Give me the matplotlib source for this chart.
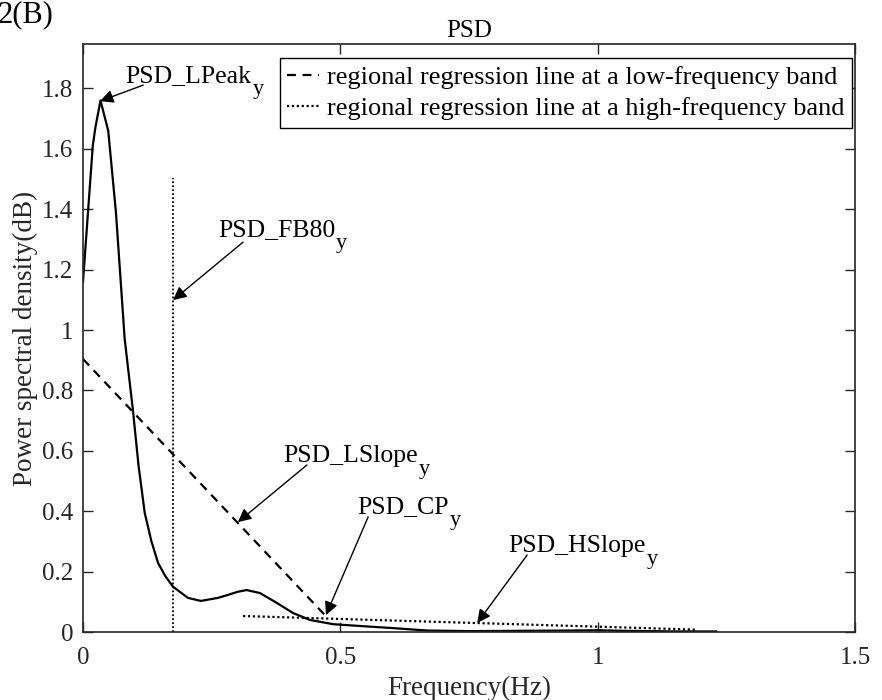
import matplotlib
matplotlib.use("Agg")
import matplotlib.pyplot as plt

plt.rcParams['font.family'] = ['Liberation Serif', 'DejaVu Serif']

# PSD curve
freq = [0, 0.019, 0.024, 0.034, 0.049, 0.064, 0.081, 0.097, 0.108, 0.12, 0.133,
        0.146, 0.16, 0.175, 0.204, 0.229, 0.262, 0.28, 0.3, 0.318, 0.344, 0.377,
        0.408, 0.441, 0.486, 0.538, 0.602, 0.668, 0.75, 0.85, 0.95, 1.0, 1.05,
        1.1, 1.15, 1.23]
psd = [1.16, 1.61, 1.67, 1.76, 1.66, 1.39, 0.97, 0.735, 0.55, 0.394, 0.30,
       0.228, 0.185, 0.150, 0.113, 0.103, 0.113, 0.122, 0.133, 0.139, 0.129, 0.096,
       0.063, 0.040, 0.026, 0.020, 0.013, 0.005, 0.003, 0.004, 0.005, 0.006, 0.004,
       0.003, 0.002, 0.002]

# regression lines and FB80 marker
low_x = [0, 0.47]
low_y = [0.904, 0.056]
high_x = [0.311, 1.19]
high_y = [0.053, 0.008]
fb80_x = 0.174
fb80_top = 1.503

# annotations: label, text baseline position, arrow tail, arrow head
labels = ['PSD_LPeak', 'PSD_FB80', 'PSD_LSlope', 'PSD_CP', 'PSD_HSlope']
text_pos = [(0.0824, 1.821), (0.262, 1.311), (0.389, 0.563), (0.532, 0.394), (0.826, 0.265)]
tails = [(0.117, 1.811), (0.311, 1.291), (0.435, 0.553), (0.554, 0.381), (0.863, 0.255)]
heads = [(0.033, 1.758), (0.175, 1.099), (0.301, 0.364), (0.472, 0.056), (0.766, 0.030)]

dark = '#262626'

fig = plt.figure(figsize=(8.82, 7.0), dpi=100)
ax = fig.add_axes([0.0941, 0.0971, 0.8753, 0.840])

ax.plot(freq, psd, color='black', lw=1.6)
ax.plot(low_x, low_y, color='black', lw=1.6, ls=(0, (4, 3)),
        label='regional regression line at a low-frequency band')
ax.plot(high_x, high_y, color='black', lw=1.6, ls=(0, (1, 1.2)),
        label='regional regression line at a high-frequency band')
ax.plot([fb80_x, fb80_x], [0, fb80_top], color='black', lw=1.3, ls=(0, (1, 1.2)))

ax.set_xlim(0, 1.5)
ax.set_ylim(0, 1.947)

renderer = fig.canvas.get_renderer()
for lab, tp, t, h in zip(labels, text_pos, tails, heads):
    txt = ax.text(tp[0], tp[1], lab, fontsize=18.5, va='baseline', ha='left')
    w = txt.get_window_extent(renderer=renderer).width
    # subscript y, drawn lowered like the original
    ax.annotate('y', xy=tp, xytext=(w + 1, -12), textcoords='offset pixels',
                fontsize=16, va='baseline', ha='left')
    ax.annotate('', xy=h, xytext=t,
                arrowprops=dict(arrowstyle='-|>', color='black', lw=1.0,
                                mutation_scale=20, shrinkA=0, shrinkB=0))

ax.set_xticks([0, 0.5, 1, 1.5])
ax.set_xticklabels(['0', '0.5', '1', '1.5'])
ax.set_yticks([0, 0.2, 0.4, 0.6, 0.8, 1, 1.2, 1.4, 1.6, 1.8])
ax.set_yticklabels(['0', '0.2', '0.4', '0.6', '0.8', '1', '1.2', '1.4', '1.6', '1.8'])
ax.tick_params(direction='in', top=True, right=True, length=7, width=1,
               labelsize=18, colors=dark)
ax.tick_params(axis='x', pad=11)
ax.tick_params(axis='y', pad=7)
for s in ax.spines.values():
    s.set_linewidth(1.2)
    s.set_color(dark)

ax.set_xlabel('Frequency(Hz)', fontsize=19.5, color=dark, labelpad=5)
ax.set_ylabel('Power spectral density(dB)', fontsize=19.5, color=dark, labelpad=3)
ax.set_title('PSD', fontsize=18, color='black', pad=5)

leg = ax.legend(loc='upper right', bbox_to_anchor=(0.996, 0.976), borderaxespad=0,
                fontsize=19, fancybox=False, edgecolor='black', framealpha=1,
                handlelength=1.2, handletextpad=0.3, borderpad=0.28, labelspacing=0.3)
leg.get_frame().set_linewidth(1.0)

fig.text(-0.003, 0.979, '2(B)', fontsize=22, va='center', ha='left')

fig.savefig('out.png', dpi=100)
